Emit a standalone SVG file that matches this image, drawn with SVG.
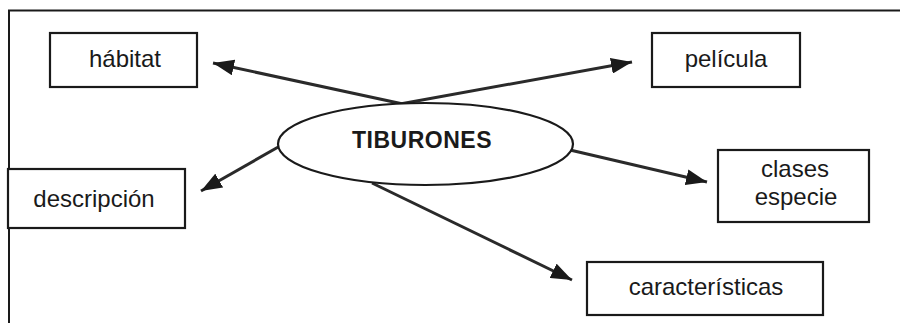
<svg xmlns="http://www.w3.org/2000/svg" width="900" height="323" viewBox="0 0 900 323">
<style>
.box{fill:#fff;stroke:#1a1a1a;stroke-width:2.2}
.lbl{font-family:"Liberation Sans",Arial,sans-serif;font-size:24px;fill:#1a1a1a;text-anchor:middle}
.title{font-family:"Liberation Sans",Arial,sans-serif;font-size:23px;font-weight:bold;fill:#1a1a1a;text-anchor:middle;letter-spacing:0.5px}
.conn{stroke:#2a2a2a;stroke-width:3;fill:none;marker-end:url(#ah)}
.frame{stroke:#1a1a1a;stroke-width:2;fill:none}
</style>
<defs>
<marker id="ah" markerUnits="userSpaceOnUse" markerWidth="22" markerHeight="16" refX="21" refY="8" orient="auto">
<path d="M0,0 L21,8 L0,16 Z" fill="#1a1a1a"/>
</marker>
</defs>
<rect width="900" height="323" fill="#fff"/>
<path class="frame" d="M9,323 L9,10.5 L900,10.5"/>
<g id="connectors">
<line class="conn" x1="403" y1="104" x2="213" y2="63"/>
<line class="conn" x1="400" y1="104" x2="632" y2="62"/>
<line class="conn" x1="280" y1="146" x2="201" y2="191"/>
<line class="conn" x1="570" y1="150" x2="707" y2="182"/>
<line class="conn" x1="372" y1="183" x2="572" y2="280"/>
</g>
<g id="tiburones">
<ellipse cx="425.5" cy="144" rx="147.5" ry="41" fill="#fff" stroke="#1a1a1a" stroke-width="2.2"/>
<text class="title" x="422" y="148">TIBURONES</text>
</g>
<g id="habitat">
<rect class="box" x="50" y="33" width="147" height="54"/>
<text class="lbl" x="125" y="67">hábitat</text>
</g>
<g id="pelicula">
<rect class="box" x="652" y="33" width="148" height="54"/>
<text class="lbl" x="726" y="67">película</text>
</g>
<g id="clases">
<rect class="box" x="718" y="150" width="151" height="72"/>
<text class="lbl" x="795" y="177">clases</text>
<text class="lbl" x="796" y="205">especie</text>
</g>
<g id="descripcion">
<rect class="box" x="8" y="169" width="177" height="59"/>
<text class="lbl" x="94" y="207">descripción</text>
</g>
<g id="caracteristicas">
<rect class="box" x="587" y="262" width="236" height="53"/>
<text class="lbl" x="706" y="295">características</text>
</g>
</svg>
